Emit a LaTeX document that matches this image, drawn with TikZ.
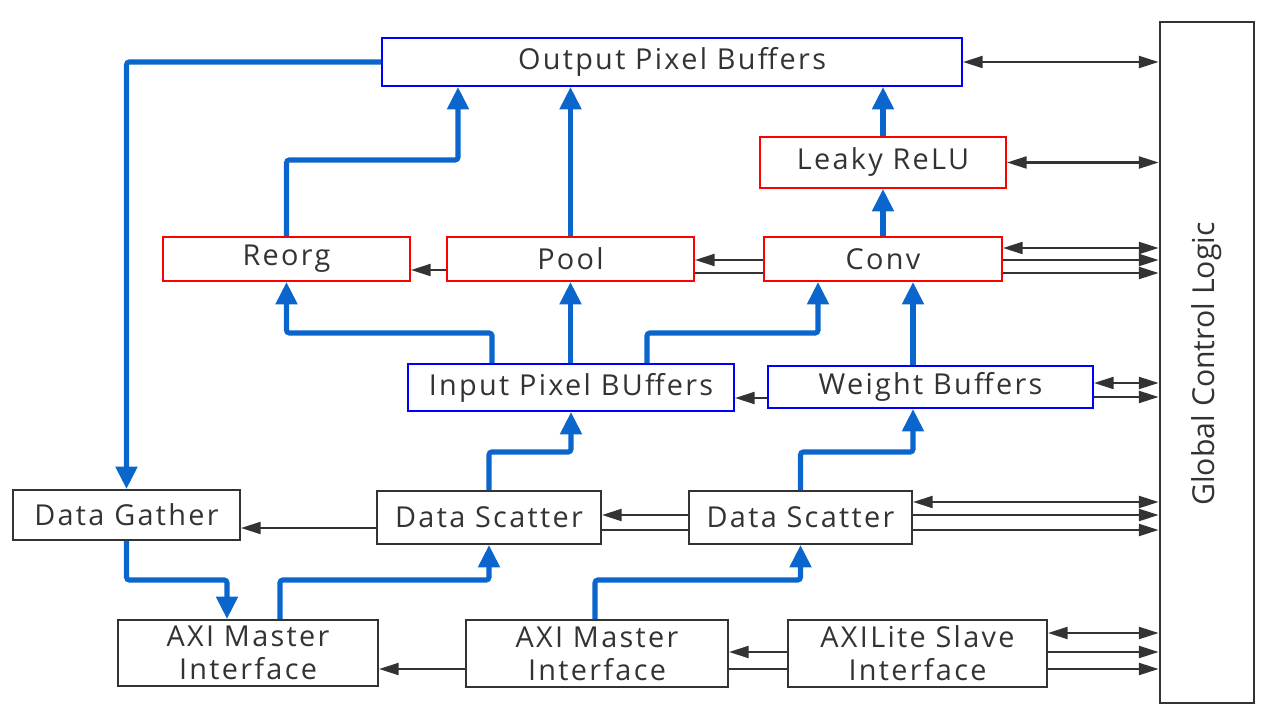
\documentclass[tikz,border=0pt]{standalone}
\usepackage{fontspec}
\setmainfont{Open Sans}[LetterSpace=8]
\newfontfamily\gclfont{Open Sans}
\usetikzlibrary{arrows.meta}
\definecolor{flow}{HTML}{0A66CC}
\definecolor{ink}{HTML}{333333}
\definecolor{bbox}{HTML}{0000FF}
\definecolor{rbox}{HTML}{FF0000}
\begin{document}
\begin{tikzpicture}[x=0.025cm,y=-0.025cm,
  sz/.style 2 args={minimum width=#1*0.025cm, minimum height=#2*0.025cm},
  box/.style={draw=ink, line width=1.4pt, text=ink, inner sep=0pt,
    font=\fontsize{20.5}{23.5}\selectfont, align=center},
  bluebox/.style={box, draw=bbox},
  redbox/.style={box, draw=rbox},
  flowarrow/.style={draw=flow, line width=3.6pt, rounded corners=2pt,
    -{Triangle[length=16pt,width=15pt]}},
  ctl/.style={draw=ink, line width=1.6pt, -{Triangle[length=14pt,width=8.5pt]}},
  ctlboth/.style={draw=ink, line width=1.6pt,
    {Triangle[length=14pt,width=8.5pt]}-{Triangle[length=14pt,width=8.5pt]}},
  plainline/.style={draw=ink, line width=1.6pt}]
\useasboundingbox (0,0) rectangle (1280,720);

% boxes
\node[bluebox, sz={580}{48}] (out) at (672,62) {Output Pixel Buffers};
\node[redbox, sz={246}{51}] (leaky) at (883,162.5) {Leaky ReLU};
\node[redbox, sz={247}{44}] (reorg) at (286.5,259) {Reorg};
\node[redbox, sz={247}{44}] (pool) at (570.5,259) {Pool};
\node[redbox, sz={238}{44}] (conv) at (883,259) {Conv};
\node[bluebox, sz={326}{47}] (ipb) at (571,387.5) {Input Pixel BUffers};
\node[bluebox, sz={325}{42}] (wb) at (930.5,387) {Weight Buffers};
\node[box, sz={227}{50}] (dg) at (126.5,515) {Data Gather};
\node[box, sz={224}{53}] (ds1) at (489,517.5) {Data Scatter};
\node[box, sz={223}{53}] (ds2) at (800.5,517.5) {Data Scatter};
\node[box, sz={260}{66}] (axi1) at (248,653) {AXI Master\\Interface};
\node[box, sz={262}{67}] (axi2) at (597,653.5) {AXI Master\\Interface};
\node[box, sz={259}{67}] (axil) at (917.5,653.5) {AXILite Slave\\Interface};
\node[box, line width=2pt, sz={94}{681}] (gcl) at (1207,362.5) {};
\node[text=ink, font=\gclfont\fontsize{21.5}{24}\selectfont, rotate=90] (gcllabel) at (1207,364) {Global Control Logic};

% turning points of the data paths
\coordinate (k1) at (458,160);
\coordinate (k2) at (492,333);
\coordinate (k3) at (647,333);
\coordinate (k4) at (818,333);
\coordinate (k5) at (913,0);
\coordinate (k6) at (571,452);
\coordinate (k7) at (913,452);
\coordinate (k8) at (227,580);
\coordinate (k9) at (280,580);
\coordinate (k10) at (595,580);

% data paths (blue)
\draw[flowarrow] (out.west) -| (dg.north);
\draw[flowarrow] (reorg.north) |- (k1) -- (k1 |- out.south);
\draw[flowarrow] (pool.north) -- (pool.north |- out.south);
\draw[flowarrow] (leaky.north) -- (out.south -| leaky.north);
\draw[flowarrow] (conv.north) -- (leaky.south);
\draw[flowarrow] (ipb.north -| k2) -- (k2) -| (reorg.south);
\draw[flowarrow] (ipb.north -| pool.south) -- (pool.south);
\draw[flowarrow] (ipb.north -| k3) -- (k3) -- (k4) -- (k4 |- conv.south);
\draw[flowarrow] (wb.north -| k5) -- (conv.south -| k5);
\draw[flowarrow] (ds1.north) |- (k6) -- (ipb.south);
\draw[flowarrow] (ds2.north) |- (k7) -- (k7 |- wb.south);
\draw[flowarrow] (dg.south) |- (k8) -- (k8 |- axi1.north);
\draw[flowarrow] (axi1.north -| k9) -- (k9) -| (ds1.south);
\draw[flowarrow] (axi2.north -| k10) -- (k10) -| (ds2.south);

% control levels
\coordinate (h248) at (0,248);
\coordinate (h260) at (0,260);
\coordinate (h270) at (0,270);
\coordinate (h273) at (0,273);
\coordinate (h383) at (0,383);
\coordinate (h397) at (0,397);
\coordinate (h398) at (0,398);
\coordinate (h502) at (0,502);
\coordinate (h515) at (0,515);
\coordinate (h528) at (0,528);
\coordinate (h530) at (0,530);
\coordinate (h633) at (0,633);
\coordinate (h652) at (0,652);
\coordinate (h669) at (0,669);

% control lines (black)
\draw[ctlboth] (out.east) -- (out.east -| gcl.west);
\draw[ctlboth] (leaky.east) -- (leaky.east -| gcl.west);
\draw[ctlboth] (conv.east |- h248) -- (gcl.west |- h248);
\draw[ctl] (conv.east |- h260) -- (gcl.west |- h260);
\draw[ctl] (conv.east |- h273) -- (gcl.west |- h273);
\draw[ctl] (conv.west |- h260) -- (pool.east |- h260);
\draw[plainline] (conv.west |- h273) -- (pool.east |- h273);
\draw[ctl] (pool.west |- h270) -- (reorg.east |- h270);
\draw[ctlboth] (wb.east |- h383) -- (gcl.west |- h383);
\draw[ctl] (wb.east |- h397) -- (gcl.west |- h397);
\draw[ctl] (wb.west |- h398) -- (ipb.east |- h398);
\draw[ctlboth] (ds2.east |- h502) -- (gcl.west |- h502);
\draw[ctl] (ds2.east |- h515) -- (gcl.west |- h515);
\draw[ctl] (ds2.east |- h530) -- (gcl.west |- h530);
\draw[ctl] (ds2.west |- h515) -- (ds1.east |- h515);
\draw[plainline] (ds2.west |- h530) -- (ds1.east |- h530);
\draw[ctl] (ds1.west |- h528) -- (dg.east |- h528);
\draw[ctlboth] (axil.east |- h633) -- (gcl.west |- h633);
\draw[ctl] (axil.east |- h652) -- (gcl.west |- h652);
\draw[ctl] (axil.east |- h669) -- (gcl.west |- h669);
\draw[ctl] (axil.west |- h652) -- (axi2.east |- h652);
\draw[plainline] (axil.west |- h669) -- (axi2.east |- h669);
\draw[ctl] (axi2.west |- h669) -- (axi1.east |- h669);
\end{tikzpicture}
\end{document}
